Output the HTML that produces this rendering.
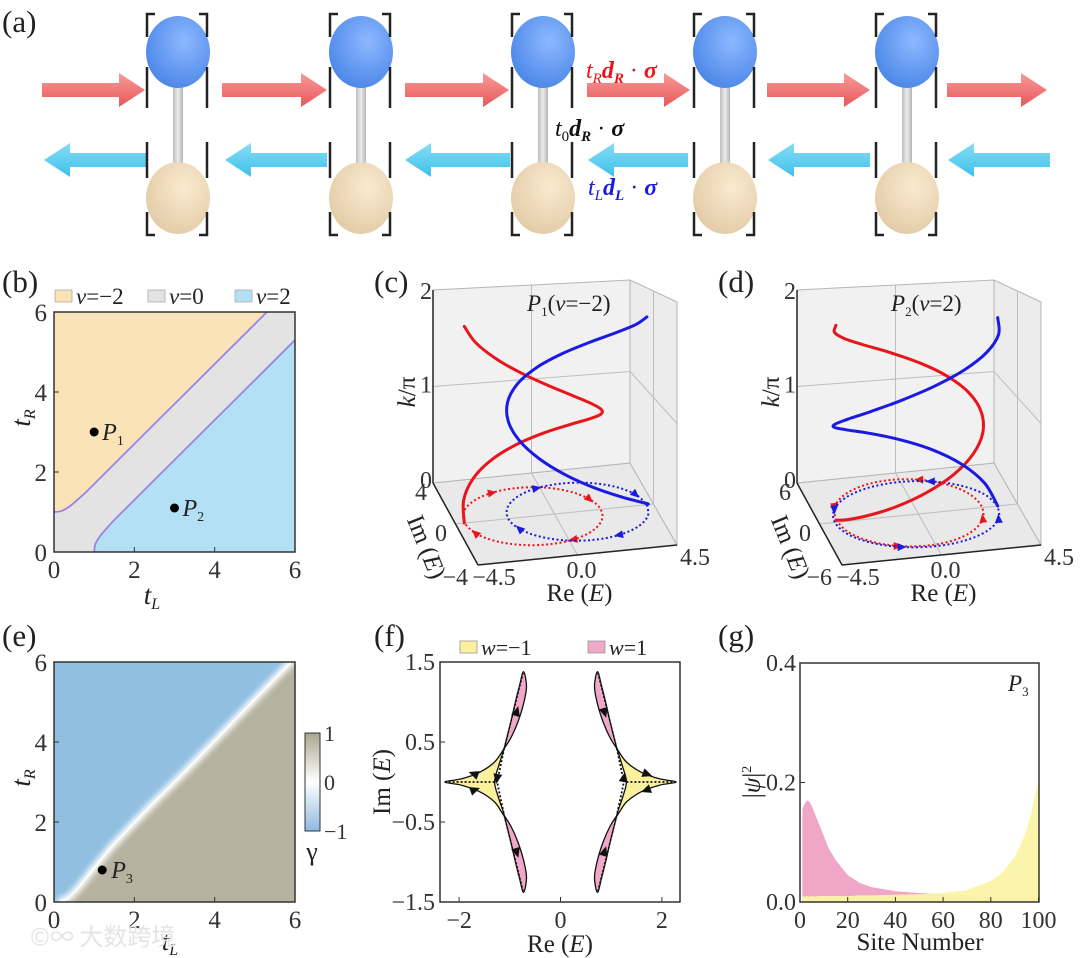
<!DOCTYPE html>
<html><head><meta charset="utf-8">
<style>
html,body{margin:0;padding:0;background:#fff;}
svg{display:block;font-family:"Liberation Serif","Noto Serif CJK SC",serif;}
</style></head>
<body>
<svg id="fig" width="1080" height="958" viewBox="0 0 1080 958" xmlns="http://www.w3.org/2000/svg">
<defs>
<radialGradient id="gBlue" cx="0.6" cy="0.35" r="0.7"><stop offset="0" stop-color="#8db8ff"/><stop offset="1" stop-color="#4a86e8"/></radialGradient>
<radialGradient id="gTan" cx="0.6" cy="0.35" r="0.7"><stop offset="0" stop-color="#fbead0"/><stop offset="1" stop-color="#e2cba6"/></radialGradient>
<linearGradient id="gRod" x1="0" x2="1"><stop offset="0" stop-color="#bdbdbd"/><stop offset="0.5" stop-color="#ececec"/><stop offset="1" stop-color="#b5b5b5"/></linearGradient>
<linearGradient id="gRed" x1="0" y1="0" x2="0" y2="1"><stop offset="0" stop-color="#f89a9a"/><stop offset="1" stop-color="#e85858"/></linearGradient>
<linearGradient id="gCyan" x1="0" y1="0" x2="0" y2="1"><stop offset="0" stop-color="#86def7"/><stop offset="1" stop-color="#3fc0ea"/></linearGradient>
<linearGradient id="gCbar" x1="0" y1="0" x2="0" y2="1"><stop offset="0" stop-color="#a9a78f"/><stop offset="0.5" stop-color="#ffffff"/><stop offset="1" stop-color="#8fb9df"/></linearGradient>
<filter id="blur3"><feGaussianBlur stdDeviation="3"/></filter>
<clipPath id="clipE"><rect x="54" y="662" width="241" height="240"/></clipPath>
<clipPath id="clipG"><rect x="800" y="663" width="239" height="239"/></clipPath>
</defs>
<g id="pa"></g>
<g font-size="24">
<text x="586" y="78" fill="#e8151b"><tspan font-style="italic">t</tspan><tspan font-size="15" font-style="italic" dy="5">R</tspan><tspan font-style="italic" font-weight="bold" dy="-5">d</tspan><tspan font-size="15" font-style="italic" font-weight="bold" dy="5">R</tspan><tspan dy="-5"> · </tspan><tspan font-weight="bold" font-style="italic">σ</tspan></text>
<text x="555" y="136" fill="#111"><tspan font-style="italic">t</tspan><tspan font-size="15" dy="5">0</tspan><tspan font-style="italic" font-weight="bold" dy="-5">d</tspan><tspan font-size="15" font-style="italic" font-weight="bold" dy="5">R</tspan><tspan dy="-5"> · </tspan><tspan font-weight="bold" font-style="italic">σ</tspan></text>
<text x="588" y="195" fill="#1a1ae0"><tspan font-style="italic">t</tspan><tspan font-size="15" font-style="italic" dy="5">L</tspan><tspan font-style="italic" font-weight="bold" dy="-5">d</tspan><tspan font-size="15" font-style="italic" font-weight="bold" dy="5">L</tspan><tspan dy="-5"> · </tspan><tspan font-weight="bold" font-style="italic">σ</tspan></text>
</g>
<g font-size="31" fill="#222">
<text x="2" y="32">(a)</text>
<text x="2" y="292">(b)</text>
<text x="374" y="292">(c)</text>
<text x="718" y="292">(d)</text>
<text x="2" y="646">(e)</text>
<text x="374" y="646">(f)</text>
<text x="718" y="646">(g)</text>
</g>
<g id="pb"></g>
<g id="pc"></g>
<g id="pd"></g>
<g id="pe"></g>
<g id="pf"></g>
<g id="pg"></g>
<text x="30" y="945" font-size="24" fill="#e4e4e4" font-family="'Noto Sans CJK SC',sans-serif">©∞ 大数跨境</text>
</svg>
<script>
// ---------- data ----------
const cellCenters=[178,361,543,725,907];
const redArrowStarts=[42,222,405,587,767,947];
const redArrowEnds=[145,327,509,690,870,1047];
const cyanArrowHeads=[44,225,405,588,768,948];
const cyanArrowTails=[147,327,510,688,870,1050];

const bUpperTL=[0,0.2,0.4,0.6,0.8,1.2,2,3,4,5.3];
const bUpperTR=[1.0,1.03,1.15,1.32,1.5,1.9,2.7,3.7,4.7,6.0];
const bLowerTL=[1.0,1.03,1.15,1.32,1.5,1.9,2.7,3.7,4.7,6.0];
const bLowerTR=[0,0.2,0.4,0.6,0.8,1.2,2,3,4,5.3];
const bTicks=[0,2,4,6];
const pointNames=['P1','P2'];
const pointTL=[1,3];
const pointTR=[3,1.1];

const eBoundTL=[0.1,0.35,0.6,1.0,1.5,2.5,3.3,4.5,6.0];
const eBoundTR=[0,0.1,0.35,0.85,1.45,2.5,3.3,4.55,6.1];
const p3TL=1.2, p3TR=0.8;

const kVals=[0,0.11,0.22,0.33,0.44,0.55,0.66,0.77,0.88,0.99,1.1,1.21,1.32,1.43,1.54,1.65,1.76];
const cRedRe=[-4.1,-3.86,-3.19,-2.19,-1.0,0.19,1.19,1.86,2.1,1.86,1.19,0.19,-1.0,-2.19,-3.19,-3.86,-4.1];
const cRedIm=[0,1.05,1.94,2.54,2.75,2.54,1.94,1.05,0,-1.05,-1.94,-2.54,-2.75,-2.54,-1.94,-1.05,0];
const cBlueRe=[4.2,3.96,3.28,2.26,1.05,-0.16,-1.18,-1.86,-2.1,-1.86,-1.18,-0.16,1.05,2.26,3.28,3.96,4.2];
const cBlueIm=[0,-1.05,-1.94,-2.54,-2.75,-2.54,-1.94,-1.05,0,1.05,1.94,2.54,2.75,2.54,1.94,1.05,0];
const dRedRe=[-3.7,-3.45,-2.73,-1.66,-0.4,0.86,1.93,2.65,2.9,2.65,1.93,0.86,-0.4,-1.66,-2.73,-3.45,-3.7];
const dRedIm=[0.3,-1.54,-3.09,-4.14,-4.5,-4.14,-3.09,-1.54,0.3,2.14,3.69,4.74,5.1,4.74,3.69,2.14,0.3];
const dBlueRe=[3.6,3.32,2.52,1.32,-0.1,-1.52,-2.72,-3.52,-3.8,-3.52,-2.72,-1.52,-0.1,1.32,2.52,3.32,3.6];
const dBlueIm=[0,1.8,3.32,4.34,4.7,4.34,3.32,1.8,0,-1.8,-3.32,-4.34,-4.7,-4.34,-3.32,-1.8,0];

const fYellowRe=[1.11,1.3,1.6,1.95,2.28,1.95,1.6,1.3,1.11,1.22,1.3,1.22,1.11];
const fYellowIm=[0.42,0.25,0.12,0.04,0,-0.04,-0.12,-0.25,-0.42,-0.2,0,0.2,0.42];
const fPetalRe=[1.11,0.98,0.84,0.72,0.67,0.73,0.81,0.89,0.98,1.06,1.11];
const fPetalIm=[0.42,0.55,0.75,1.0,1.2,1.38,1.2,1.0,0.75,0.55,0.42];
const fTicksX=[-2,0,2];
const fTicksY=[1.5,0.5,-0.5,-1.5];

const gSites=[1,2,3,4,5,6,8,10,12,15,20,25,30,40,50,60,70,80,85,90,93,95,97,98,99,100];
const gPink=[0.155,0.165,0.17,0.168,0.16,0.15,0.13,0.11,0.09,0.07,0.045,0.032,0.025,0.018,0.015,0.013,0.01,0.008,0.006,0.005,0.005,0.005,0.008,0.01,0.008,0.004];
const gYellow=[0.01,0.009,0.01,0.009,0.01,0.009,0.01,0.01,0.01,0.01,0.01,0.011,0.011,0.012,0.013,0.015,0.02,0.035,0.05,0.075,0.1,0.12,0.15,0.17,0.19,0.2];
const gTicksX=[0,20,40,60,80,100];
const gTicksY=[0.0,0.2,0.4];

// ---------- helpers ----------
const NS='http://www.w3.org/2000/svg';
const TF=24;
function mk(tag,attrs,parent){const e=document.createElementNS(NS,tag);for(const k in attrs)e.setAttribute(k,attrs[k]);parent.appendChild(e);return e;}
function smooth(pts){let d='M'+pts[0][0].toFixed(1)+','+pts[0][1].toFixed(1);
 for(let i=0;i<pts.length-1;i++){const p0=pts[Math.max(0,i-1)],p1=pts[i],p2=pts[i+1],p3=pts[Math.min(pts.length-1,i+2)];
  const c1=[p1[0]+(p2[0]-p0[0])/6,p1[1]+(p2[1]-p0[1])/6],c2=[p2[0]-(p3[0]-p1[0])/6,p2[1]-(p3[1]-p1[1])/6];
  d+=' C'+c1[0].toFixed(1)+','+c1[1].toFixed(1)+' '+c2[0].toFixed(1)+','+c2[1].toFixed(1)+' '+p2[0].toFixed(1)+','+p2[1].toFixed(1);}
 return d;}
function txt(parent,x,y,s,attrs){const t=mk('text',Object.assign({x:x,y:y},attrs||{}),parent);t.textContent=s;return t;}

// ---------- panel a ----------
const pa=document.getElementById('pa');
redArrowStarts.forEach((x0,i)=>{const x1=redArrowEnds[i],y=90;
 const a=mk('polygon',{points:`${x0},${y-7} ${x1-26},${y-7} ${x1-26},${y-17} ${x1},${y} ${x1-26},${y+17} ${x1-26},${y+7} ${x0},${y+7}`,fill:'url(#gRed)'},pa);
 
 });
cyanArrowHeads.forEach((x0,i)=>{const x1=cyanArrowTails[i],y=160;
 const a=mk('polygon',{points:`${x0},${y} ${x0+26},${y-17} ${x0+26},${y-7} ${x1},${y-7} ${x1},${y+7} ${x0+26},${y+7} ${x0+26},${y+17}`,fill:'url(#gCyan)'},pa);
 
 });
cellCenters.forEach(c=>{
 const g=mk('g',{},pa);
 
 
 mk('rect',{x:c-5,y:80,width:10,height:90,fill:'url(#gRod)'},g);
 mk('ellipse',{cx:c,cy:52,rx:32,ry:36,fill:'url(#gBlue)'},g);
 mk('ellipse',{cx:c,cy:198,rx:32,ry:36,fill:'url(#gTan)'},g);
 const L=c-31,R=c+29;
 let d=`M${L+8},14 H${L} V37 M${L},67 V108 M${L},142 V178 M${L},212 V235 H${L+8} `;
 d+=`M${R-8},14 H${R} V37 M${R},67 V108 M${R},142 V178 M${R},212 V235 H${R-8}`;
 mk('path',{d:d,stroke:'#222','stroke-width':2.5,fill:'none'},g);
});

// ---------- panel b ----------
const pb=document.getElementById('pb');
const bx=v=>54+v*241/6, by=v=>552-v*240/6;
mk('rect',{x:54,y:312,width:241,height:240,fill:'#e3e3e3'},pb);
{let up='M'+bx(0)+','+by(6)+' '; bUpperTL.forEach((t,i)=>up+='L'+bx(t)+','+by(bUpperTR[i])+' '); up+='Z';
 const r=mk('path',{d:up,fill:'#fbe3b8'},pb);
 
 
 let lo='M'+bx(6)+','+by(0)+' '; bLowerTL.forEach((t,i)=>lo+='L'+bx(t)+','+by(bLowerTR[i])+' '); lo+='Z';
 const r2=mk('path',{d:lo,fill:'#b3e0f5'},pb);
 
 
 const l1=mk('path',{d:smooth(bUpperTL.map((t,i)=>[bx(t),by(bUpperTR[i])])),stroke:'#9b82e6','stroke-width':1.8,fill:'none'},pb);
 
 
 const l2=mk('path',{d:smooth(bLowerTL.map((t,i)=>[bx(t),by(bLowerTR[i])])),stroke:'#9b82e6','stroke-width':1.8,fill:'none'},pb);
 
 }
mk('rect',{x:54,y:312,width:241,height:240,fill:'none',stroke:'#333','stroke-width':1.5},pb);
bTicks.forEach(t=>{
 mk('line',{x1:bx(t),y1:552,x2:bx(t),y2:547,stroke:'#333'},pb);
 mk('line',{x1:54,y1:by(t),x2:59,y2:by(t),stroke:'#333'},pb);
 const a=txt(pb,bx(t),578,String(t),{'font-size':TF+1,'text-anchor':'middle',fill:'#333'});
 
 
 const b=txt(pb,47,by(t)+9,String(t),{'font-size':TF+1,'text-anchor':'end',fill:'#333'});
 
 });
pointNames.forEach((n,i)=>{
 const c=mk('circle',{cx:bx(pointTL[i]),cy:by(pointTR[i]),r:4.5,fill:'#000'},pb);
 
 
 const t=mk('text',{x:bx(pointTL[i])+8,y:by(pointTR[i])+8,'font-size':24,'font-style':'italic',fill:'#222'},pb);
 t.innerHTML='P<tspan font-size="14" font-style="normal" dy="5">'+n[1]+'</tspan>';
 
 });
{const t=mk('text',{x:152,y:604,'font-size':27,'font-style':'italic',fill:'#222','text-anchor':'middle'},pb);
 t.innerHTML='t<tspan font-size="16" dy="5">L</tspan>';
 
 
 const t2=mk('text',{x:0,y:0,'font-size':27,'font-style':'italic',fill:'#222','text-anchor':'middle',transform:'translate(30,418) rotate(-90)'},pb);
 t2.innerHTML='t<tspan font-size="16" dy="5">R</tspan>';
 
 }
[['#fbe3b8','−2',55],['#e3e3e3','0',148],['#b3e0f5','2',235]].forEach(l=>{
 const g=mk('g',{},pb);
 
 
 mk('rect',{x:l[2],y:290,width:17,height:12,fill:l[0],stroke:'#aaa','stroke-width':0.8},g);
 const t=mk('text',{x:l[2]+21,y:304,'font-size':23,fill:'#222'},g);
 t.innerHTML='<tspan font-style="italic">v</tspan>='+l[1];});

// ---------- panels c,d (3D) ----------
function build3D(el,dx,imMax,redRe,redIm,blueRe,blueIm,label,num){
 const A=[433+dx,483],D=[630+dx,463],B=[478+dx,565],C=[677+dx,545];
 const hA=193,hD=183,hB=255,hC=243;
 const P=(r,i,k)=>{const u=(r+4.5)/9,v=(imMax-i)/(2*imMax);
  const x=(1-u)*(1-v)*A[0]+u*(1-v)*D[0]+(1-u)*v*B[0]+u*v*C[0];
  const y=(1-u)*(1-v)*A[1]+u*(1-v)*D[1]+(1-u)*v*B[1]+u*v*C[1];
  const h=(1-u)*(1-v)*hA+u*(1-v)*hD+(1-u)*v*hB+u*v*hC;return [x,y-k/2*h];};
 const pt=p=>p[0].toFixed(1)+','+p[1].toFixed(1);
 const A2=P(-4.5,imMax,2),D2=P(4.5,imMax,2),C2=P(4.5,-imMax,2);
 mk('polygon',{points:[A,D,C,B].map(pt).join(' '),fill:'#e9e9e9',stroke:'#b5b5b5'},el);
 mk('polygon',{points:[A,D,D2,A2].map(pt).join(' '),fill:'#f1f1f1',stroke:'#b5b5b5'},el);
 mk('polygon',{points:[D,C,C2,D2].map(pt).join(' '),fill:'#ececec',stroke:'#b5b5b5'},el);
 const gl=(p,q)=>mk('line',{x1:p[0],y1:p[1],x2:q[0],y2:q[1],stroke:'#bdbdbd','stroke-width':1},el);
 gl(P(0,imMax,0),P(0,imMax,2)); gl(P(-4.5,imMax,1),P(4.5,imMax,1)); gl(P(4.5,imMax,1),P(4.5,-imMax,1));
 gl(P(4.5,0,0),P(4.5,0,2)); gl(P(0,imMax,0),P(0,-imMax,0)); gl(P(-4.5,0,0),P(4.5,0,0));
 const ax=(p,q)=>mk('line',{x1:p[0],y1:p[1],x2:q[0],y2:q[1],stroke:'#222','stroke-width':1.5},el);
 ax(A,A2); ax(A,B); ax(B,C);
 [[redRe,redIm,'#e8151b'],[blueRe,blueIm,'#1a1ae0']].forEach(s=>{
  const pts=s[0].map((r,i)=>P(r,s[1][i],0));
  const l=mk('path',{d:smooth(pts),stroke:s[2],'stroke-width':2,'stroke-dasharray':'2 2.5',fill:'none'},el);
  
  
  [3,7,11,15].forEach(j=>{const p=pts[j],q=pts[j+1];const a=Math.atan2(q[1]-p[1],q[0]-p[0])*180/Math.PI;
   const m=mk('polygon',{points:'5,0 -4,-4 -4,4',fill:s[2],transform:`translate(${p[0].toFixed(1)},${p[1].toFixed(1)}) rotate(${a.toFixed(1)})`},el);
   
   });
 });
 [[redRe,redIm,'#e8151b','red-band'],[blueRe,blueIm,'#1a1ae0','blue-band']].forEach(s=>{
  const pts=s[0].map((r,i)=>P(r,s[1][i],kVals[i]));
  const l=mk('path',{d:smooth(pts),stroke:s[2],'stroke-width':3,fill:'none','stroke-linecap':'round'},el);
  
  });
 const tl=(x,y,s,anchor)=>{const t=txt(el,x,y,s,{'font-size':TF,fill:'#333','text-anchor':anchor||'end'});
  
  };
 tl(A2[0]-1,A2[1]+9,'2'); tl(A[0]-1,(A[1]+A2[1])/2+6,'1'); tl(A[0]-1,A[1]+5,'0');
 tl(A[0]-6,A[1]+17,String(imMax)); tl(A[0]+14,541,'0'); tl(B[0]-10,B[1]+20,'−'+imMax);
 tl(B[0]+16,B[1]+20,'−4.5','middle'); tl(P(0,-imMax,0)[0]+4,B[1]+13,'0.0','middle'); tl(C[0]+18,C[1]+20,'4.5','middle');
 const t1=mk('text',{x:0,y:0,'font-size':25,fill:'#222','text-anchor':'middle',transform:`translate(${A[0]-18},${392}) rotate(-90)`},el);
 t1.innerHTML='<tspan font-style="italic">k</tspan>/π';
 
 
 const t2=mk('text',{x:0,y:0,'font-size':25,fill:'#222','text-anchor':'middle',transform:`translate(${A[0]-14},${550}) rotate(68)`},el);
 t2.innerHTML='Im (<tspan font-style="italic">E</tspan>)';
 
 
 const t3=mk('text',{x:P(0,-imMax,0)[0]+2,y:601,'font-size':25,fill:'#222','text-anchor':'middle'},el);
 t3.innerHTML='Re (<tspan font-style="italic">E</tspan>)';
 
 
 const t4=mk('text',{x:A2[0]+94,y:311,'font-size':23,fill:'#222'},el);
 t4.innerHTML='<tspan font-style="italic">P</tspan><tspan font-size="13" dy="5">'+num+'</tspan><tspan dy="-5">(</tspan><tspan font-style="italic">v</tspan>='+label+')';
 
 
}
build3D(document.getElementById('pc'),0,4,cRedRe,cRedIm,cBlueRe,cBlueIm,'−2','1');
build3D(document.getElementById('pd'),364,6,dRedRe,dRedIm,dBlueRe,dBlueIm,'2','2');

// ---------- panel e ----------
const pe=document.getElementById('pe');
const ex=v=>54+v*241/6, ey=v=>902-v*240/6;
mk('rect',{x:54,y:662,width:241,height:240,fill:'#b5b3a0'},pe);
{const gE=mk('g',{'clip-path':'url(#clipE)'},pe);
 let d='M'+ex(0)+','+ey(0)+' '; eBoundTL.forEach((t,i)=>d+='L'+ex(t)+','+ey(eBoundTR[i])+' '); d+='L'+ex(0)+','+ey(6.2)+' Z';
 const r=mk('path',{d:d,fill:'#91bfe1'},gE);
 
 
 const w=mk('path',{d:smooth(eBoundTL.map((t,i)=>[ex(t),ey(eBoundTR[i])])),stroke:'#fff','stroke-width':7,fill:'none',filter:'url(#blur3)'},gE);
 
 
 mk('path',{d:smooth(eBoundTL.map((t,i)=>[ex(t),ey(eBoundTR[i])])),stroke:'#fff','stroke-width':1.5,fill:'none'},gE);}
mk('rect',{x:54,y:662,width:241,height:240,fill:'none',stroke:'#333','stroke-width':1.5},pe);
bTicks.forEach(t=>{
 mk('line',{x1:ex(t),y1:902,x2:ex(t),y2:897,stroke:'#333'},pe);
 mk('line',{x1:54,y1:ey(t),x2:59,y2:ey(t),stroke:'#333'},pe);
 const a=txt(pe,ex(t),928,String(t),{'font-size':TF+1,'text-anchor':'middle',fill:'#333'});
 
 
 const b=txt(pe,47,ey(t)+9,String(t),{'font-size':TF+1,'text-anchor':'end',fill:'#333'});
 
 });
{const c=mk('circle',{cx:ex(p3TL),cy:ey(p3TR),r:4.5,fill:'#000'},pe);
 
 
 const t=mk('text',{x:ex(p3TL)+9,y:ey(p3TR)+8,'font-size':24,'font-style':'italic',fill:'#222'},pe);
 t.innerHTML='P<tspan font-size="14" font-style="normal" dy="5">3</tspan>';
 
 
 const t1=mk('text',{x:170,y:950,'font-size':27,'font-style':'italic',fill:'#222','text-anchor':'middle'},pe);
 t1.innerHTML='t<tspan font-size="16" dy="5">L</tspan>';
 
 
 const t2=mk('text',{x:0,y:0,'font-size':27,'font-style':'italic',fill:'#222','text-anchor':'middle',transform:'translate(30,778) rotate(-90)'},pe);
 t2.innerHTML='t<tspan font-size="16" dy="5">R</tspan>';
 
 
 const cb=mk('rect',{x:305,y:733,width:15,height:98,fill:'url(#gCbar)',stroke:'#333','stroke-width':1},pe);
 
 
 [['1',741],['0',790],['−1',839]].forEach(l=>{const a=txt(pe,324,l[1],l[0],{'font-size':22,fill:'#333'});
  
  });
 const g=txt(pe,312,860,'γ',{'font-size':26,fill:'#222','text-anchor':'middle'});
 
 }

// ---------- panel f ----------
const pf=document.getElementById('pf');
const fx=v=>560.5+v*50.7, fy=v=>782-v*80;
[[1,1],[-1,1],[1,-1],[-1,-1]].forEach(s=>{
 const pts=fPetalRe.map((r,i)=>[fx(s[0]*r),fy(s[1]*fPetalIm[i])]);
 const p=mk('path',{d:smooth(pts)+' Z',fill:'#efa8c8',stroke:'#111','stroke-width':1.3},pf);
 
 
 const dl=mk('line',{x1:fx(s[0]*1.11),y1:fy(s[1]*0.42),x2:fx(s[0]*0.73),y2:fy(s[1]*1.38),stroke:'#111','stroke-width':1.5,'stroke-dasharray':'2 2'},pf);
 
 
 const q=pts[2],a=Math.atan2(pts[3][1]-q[1],pts[3][0]-q[0])*180/Math.PI+(s[0]<0?0:180);
 const m=mk('polygon',{points:'6,0 -4,-4.5 -4,4.5',fill:'#111',transform:`translate(${((pts[7][0]+pts[2][0])/2).toFixed(1)},${((pts[7][1]+pts[2][1])/2).toFixed(1)}) rotate(${a.toFixed(1)})`},pf);
 
 });
[1,-1].forEach(s=>{
 const pts=fYellowRe.map((r,i)=>[fx(s*r),fy(fYellowIm[i])]);
 const p=mk('path',{d:smooth(pts)+' Z',fill:'#fbf09e',stroke:'#111','stroke-width':1.3},pf);
 
 
 const dl=mk('path',{d:`M${fx(s*1.3)},${fy(0)} H${fx(s*2.28)} M${fx(s*1.11)},${fy(0.42)} L${fx(s*1.25)},${fy(0)} L${fx(s*1.11)},${fy(-0.42)}`,stroke:'#111','stroke-width':1.8,'stroke-dasharray':'2 2',fill:'none'},pf);
 
 
 [[1.7,0.1,s>0?20:200],[1.7,-0.1,s>0?160:-20],[1.25,0.05,s>0?-80:100]].forEach(a=>{
  const m=mk('polygon',{points:'6,0 -4,-4.5 -4,4.5',fill:'#111',transform:`translate(${fx(s*a[0])},${fy(a[1])}) rotate(${a[2]})`},pf);
  
  });});
mk('rect',{x:440,y:662,width:240,height:240,fill:'none',stroke:'#333','stroke-width':1.5},pf);
fTicksX.forEach(t=>{mk('line',{x1:fx(t),y1:902,x2:fx(t),y2:897,stroke:'#333'},pf);
 const a=txt(pf,fx(t),928,t<0?'−'+(-t):String(t),{'font-size':TF,'text-anchor':'middle',fill:'#333'});
 
 });
fTicksY.forEach(t=>{mk('line',{x1:440,y1:fy(t),x2:445,y2:fy(t),stroke:'#333'},pf);
 const a=txt(pf,435,fy(t)+8,t<0?'−'+(-t):String(t),{'font-size':TF,'text-anchor':'end',fill:'#333'});
 
 });
{const t=mk('text',{x:560,y:952,'font-size':25,fill:'#222','text-anchor':'middle'},pf);
 t.innerHTML='Re (<tspan font-style="italic">E</tspan>)';
 
 
 const t2=mk('text',{x:0,y:0,'font-size':25,fill:'#222','text-anchor':'middle',transform:'translate(390,782) rotate(-90)'},pf);
 t2.innerHTML='Im (<tspan font-style="italic">E</tspan>)';
 
 
 [['#fbf09e','−1',460],['#efa8c8','1',588]].forEach(l=>{const g=mk('g',{},pf);
  
  
  mk('rect',{x:l[2],y:641,width:17,height:12,fill:l[0],stroke:'#999','stroke-width':0.8},g);
  const tt=mk('text',{x:l[2]+21,y:655,'font-size':22,fill:'#222'},g);
  tt.innerHTML='<tspan font-style="italic">w</tspan>='+l[1];});}

// ---------- panel g ----------
const pg=document.getElementById('pg');
const gx=v=>800+v*2.385, gy=v=>902-v*597.5;
{const gG=mk('g',{'clip-path':'url(#clipG)'},pg);
 let d='M'+gx(gSites[0])+','+gy(0)+' '; gSites.forEach((s,i)=>d+='L'+gx(s).toFixed(1)+','+gy(gPink[i]).toFixed(1)+' '); d+='L'+gx(100)+','+gy(0)+' Z';
 const a=mk('path',{d:d,fill:'#f0a6c6'},gG);
 
 
 let d2='M'+gx(gSites[0])+','+gy(0)+' '; gSites.forEach((s,i)=>d2+='L'+gx(s).toFixed(1)+','+gy(gYellow[i]).toFixed(1)+' '); d2+='L'+gx(100)+','+gy(0)+' Z';
 const b=mk('path',{d:d2,fill:'#fbf3a6','fill-opacity':0.95},gG);
 
 }
mk('rect',{x:800,y:663,width:239,height:239,fill:'none',stroke:'#333','stroke-width':1.5},pg);
gTicksX.forEach(t=>{mk('line',{x1:gx(t),y1:902,x2:gx(t),y2:897,stroke:'#333'},pg);
 const a=txt(pg,gx(t),928,String(t),{'font-size':TF,'text-anchor':'middle',fill:'#333'});
 
 });
gTicksY.forEach(t=>{mk('line',{x1:800,y1:gy(t),x2:805,y2:gy(t),stroke:'#333'},pg);
 const a=txt(pg,796,gy(t)+8,t.toFixed(1),{'font-size':TF,'text-anchor':'end',fill:'#333'});
 
 });
{const t=txt(pg,920,950,'Site Number',{'font-size':25,'text-anchor':'middle',fill:'#222'});
 
 
 const t2=mk('text',{x:0,y:0,'font-size':25,fill:'#222','text-anchor':'middle',transform:'translate(760,782) rotate(-90)'},pg);
 t2.innerHTML='|<tspan font-style="italic">ψ</tspan>|<tspan font-size="14" dy="-9">2</tspan>';
 
 
 const t3=mk('text',{x:1008,y:691,'font-size':23,'font-style':'italic',fill:'#222'},pg);
 t3.innerHTML='P<tspan font-size="13" font-style="normal" dy="5">3</tspan>';
 
 }
</script>
</body></html>
